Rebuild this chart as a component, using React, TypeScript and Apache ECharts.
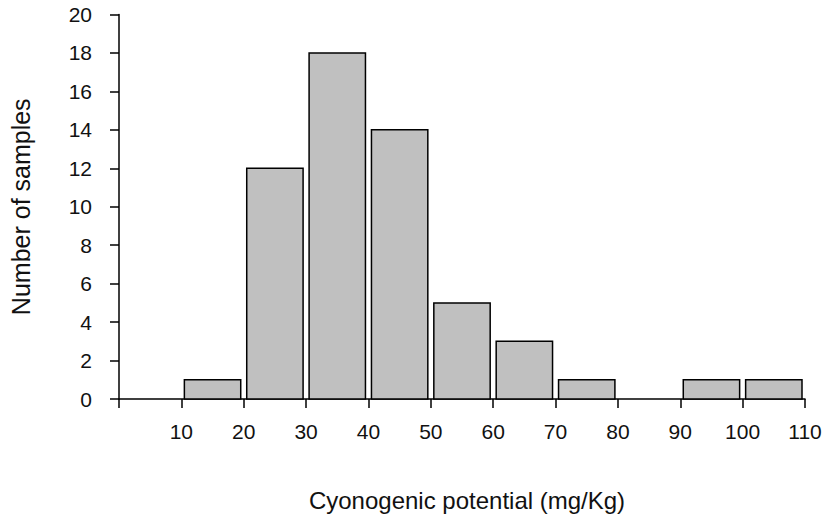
import React, { useEffect, useRef } from "react";
import * as echarts from "echarts";

const binStarts = [10, 20, 30, 40, 50, 60, 70, 80, 90, 100];
const binEnds = [20, 30, 40, 50, 60, 70, 80, 90, 100, 110];
const counts = [1, 12, 18, 14, 5, 3, 1, 0, 1, 1];
const xTitle = "Cyonogenic potential (mg/Kg)";
const yTitle = "Number of samples";

const FONT = "'Liberation Sans', Arial, sans-serif";

export default function App() {
  const ref = useRef<HTMLDivElement>(null);
  useEffect(() => {
    if (!ref.current) return;
    const chart = echarts.init(ref.current, undefined, { renderer: "svg" });
    const data = binStarts.map((s, i) => [s, binEnds[i], counts[i]]);
    chart.setOption({
      animation: false,
      backgroundColor: "#ffffff",
      grid: { left: 118, right: 23, top: 14.5, bottom: 118, containLabel: false },
      xAxis: {
        type: "value",
        min: 0,
        max: 110,
        interval: 10,
        name: xTitle,
        nameLocation: "middle",
        nameGap: 89,
        nameTextStyle: { fontFamily: FONT, fontSize: 24, color: "#111", padding: [0, 0, 0, 10] },
        axisLine: { show: true, lineStyle: { color: "#000", width: 1.5 } },
        axisTick: { show: true, inside: false, length: 9, lineStyle: { color: "#000", width: 1.5 } },
        axisLabel: {
          margin: 22,
          fontFamily: FONT,
          fontSize: 21,
          color: "#111",
          formatter: (v: number) => (v === 0 ? "" : String(v)),
        },
        splitLine: { show: false },
      },
      yAxis: {
        type: "value",
        min: 0,
        max: 20,
        interval: 2,
        name: yTitle,
        nameLocation: "middle",
        nameGap: 86,
        nameTextStyle: { fontFamily: FONT, fontSize: 25, color: "#111" },
        axisLine: { show: true, lineStyle: { color: "#000", width: 1.5 } },
        axisTick: { show: true, inside: false, length: 9, lineStyle: { color: "#000", width: 1.5 } },
        axisLabel: { margin: 27, fontFamily: FONT, fontSize: 21, color: "#111" },
        splitLine: { show: false },
      },
      series: [
        {
          type: "custom",
          data,
          encode: { x: [0, 1], y: 2 },
          renderItem: (params: any, api: any) => {
            const x0 = api.value(0);
            const x1 = api.value(1);
            const c = api.value(2);
            if (!c) return null;
            const tl = api.coord([x0, c]);
            const br = api.coord([x1, 0]);
            const inset = 3;
            return {
              type: "rect",
              shape: {
                x: tl[0] + inset,
                y: tl[1],
                width: br[0] - tl[0] - 2 * inset,
                height: br[1] - tl[1],
              },
              style: { fill: "#c0c0c0", stroke: "#000", lineWidth: 1.5 },
            };
          },
        },
      ],
    });
    return () => chart.dispose();
  }, []);
  return (
    <div
      ref={ref}
      style={{ position: "fixed", left: 0, top: 0, width: 828, height: 517, background: "#fff" }}
    />
  );
}
